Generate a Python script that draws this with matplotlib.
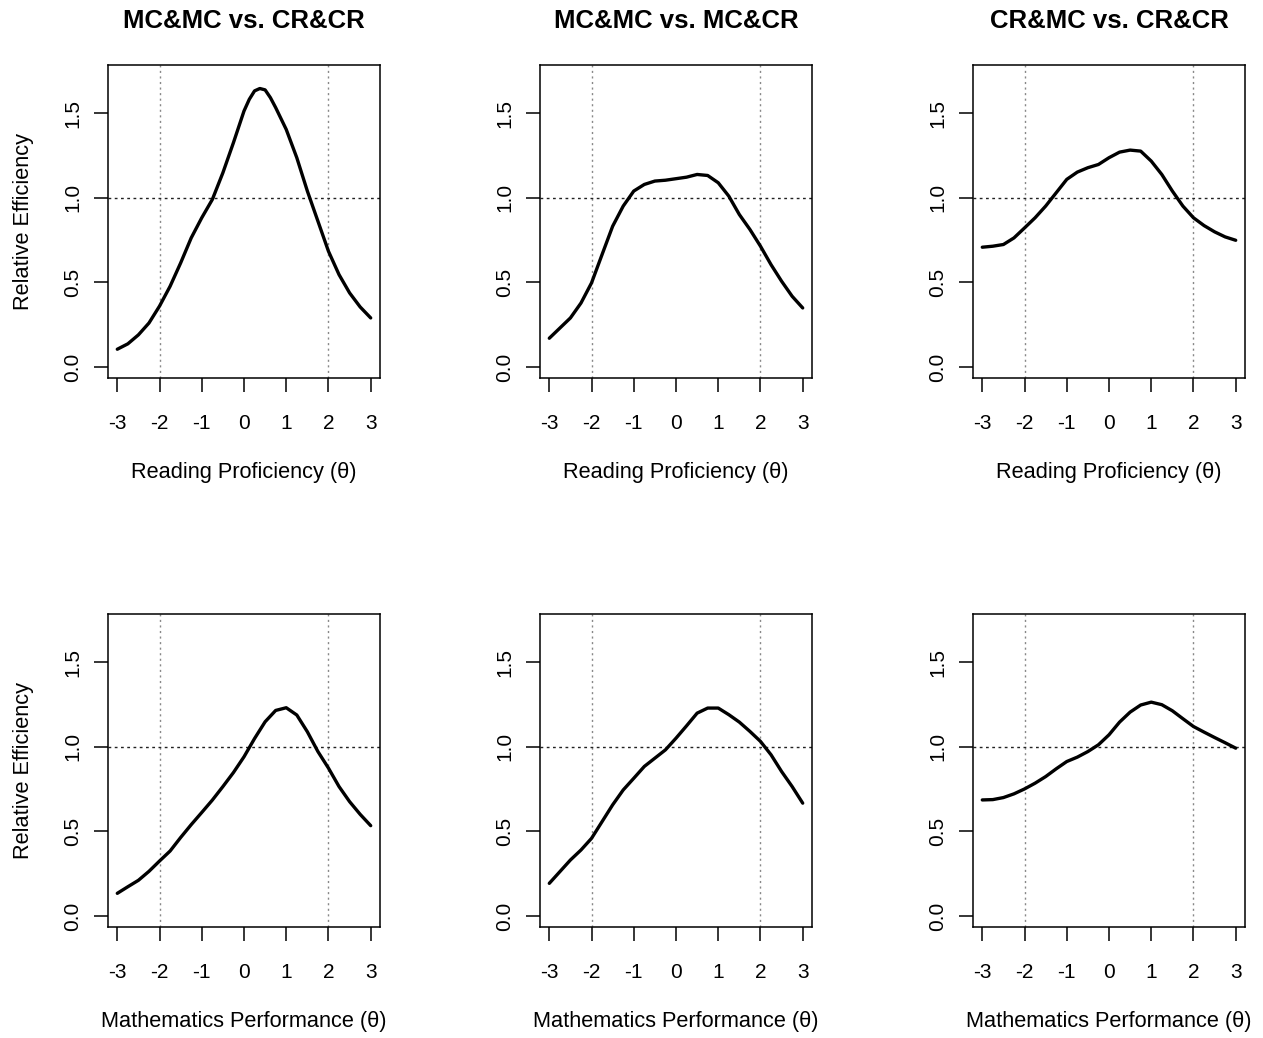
import matplotlib
matplotlib.use("Agg")
import matplotlib.pyplot as plt

plt.rcParams['font.family'] = ['Liberation Sans', 'DejaVu Sans']
plt.rcParams['axes.unicode_minus'] = False

theta = [-3.0, -2.75, -2.5, -2.25, -2.0, -1.75, -1.5, -1.25, -1.0, -0.75, -0.5, -0.25,
         0.0, 0.25, 0.5, 0.75, 1.0, 1.25, 1.5, 1.75, 2.0, 2.25, 2.5, 2.75, 3.0]
theta_p1 = [-3.0, -2.75, -2.5, -2.25, -2.0, -1.75, -1.5, -1.25, -1.0, -0.75, -0.5, -0.25,
            0.0, 0.125, 0.25, 0.375, 0.5, 0.625, 0.75, 1.0, 1.25, 1.5, 1.75, 2.0, 2.25,
            2.5, 2.75, 3.0]

titles = ["MC&MC vs. CR&CR", "MC&MC vs. MC&CR", "CR&MC vs. CR&CR"]
xlabels = ["Reading Proficiency (\u03b8)", "Mathematics Performance (\u03b8)"]
ylabel = "Relative Efficiency"

reading_mcmc_crcr = [0.105, 0.137, 0.19, 0.26, 0.36, 0.477, 0.615, 0.763, 0.882, 0.99, 1.148,
                     1.326, 1.513, 1.582, 1.632, 1.646, 1.638, 1.592, 1.533, 1.404, 1.237,
                     1.04, 0.862, 0.684, 0.546, 0.438, 0.355, 0.29]
reading_mcmc_mccr = [0.17, 0.23, 0.29, 0.378, 0.497, 0.665, 0.832, 0.951, 1.04, 1.079, 1.099,
                     1.104, 1.113, 1.122, 1.138, 1.132, 1.089, 1.01, 0.901, 0.813, 0.714,
                     0.605, 0.507, 0.418, 0.349]
reading_crmc_crcr = [0.708, 0.714, 0.724, 0.763, 0.822, 0.882, 0.951, 1.03, 1.109, 1.152, 1.178,
                     1.197, 1.237, 1.27, 1.282, 1.276, 1.217, 1.138, 1.04, 0.951, 0.882,
                     0.836, 0.799, 0.769, 0.749]
math_mcmc_crcr = [0.134, 0.173, 0.211, 0.264, 0.325, 0.384, 0.464, 0.54, 0.612, 0.685, 0.765,
                  0.848, 0.941, 1.049, 1.148, 1.215, 1.231, 1.188, 1.089, 0.972, 0.874,
                  0.765, 0.676, 0.601, 0.534]
math_mcmc_mccr = [0.193, 0.262, 0.331, 0.39, 0.459, 0.558, 0.657, 0.745, 0.814, 0.884, 0.933,
                  0.982, 1.051, 1.124, 1.199, 1.229, 1.229, 1.19, 1.146, 1.091, 1.032,
                  0.953, 0.854, 0.765, 0.667]
math_crmc_crcr = [0.686, 0.688, 0.7, 0.722, 0.751, 0.785, 0.824, 0.87, 0.913, 0.939, 0.972,
                  1.012, 1.071, 1.146, 1.205, 1.247, 1.264, 1.249, 1.213, 1.166, 1.12,
                  1.087, 1.055, 1.024, 0.992]

series = [[(theta_p1, reading_mcmc_crcr), (theta, reading_mcmc_mccr), (theta, reading_crmc_crcr)],
          [(theta, math_mcmc_crcr), (theta, math_mcmc_mccr), (theta, math_crmc_crcr)]]

xticks = [-3, -2, -1, 0, 1, 2, 3]
xticklabels = ["-3", "-2", "-1", "0", "1", "2", "3"]
yticks = [0.0, 0.5, 1.0, 1.5]
yticklabels = ["0.0", "0.5", "1.0", "1.5"]

W, H = 1263, 1038
fig = plt.figure(figsize=(W / 100, H / 100), dpi=100)

lefts = [108, 540, 973]
tops = [65, 614]
pw, ph = 272, 313

for r in range(2):
    for c in range(3):
        ax = fig.add_axes([lefts[c] / W, 1 - (tops[r] + ph) / H, pw / W, ph / H])
        xs, ys = series[r][c]
        ax.plot(xs, ys, color='black', lw=2.4, solid_joinstyle='round',
                solid_capstyle='round', zorder=3)
        ax.axhline(1.0, color='#222222', lw=1.0, linestyle=(0, (2, 2.5)), zorder=2)
        for gx in (-2, 2):
            ax.axvline(gx, color='#888888', lw=1.0, linestyle=(0, (1.5, 2.5)), zorder=1)
        ax.set_xlim(-3.22, 3.22)
        ax.set_ylim(-0.065, 1.785)
        ax.set_xticks(xticks)
        ax.set_xticklabels(xticklabels)
        ax.set_yticks(yticks)
        ax.set_yticklabels(yticklabels, rotation=90, va='center')
        ax.tick_params(axis='both', direction='out', length=10, width=1.1,
                       labelsize=15, color='black')
        ax.tick_params(axis='x', pad=16)
        ax.tick_params(axis='y', pad=8.5)
        for sp in ax.spines.values():
            sp.set_linewidth(1.1)
        ax.set_xlabel(xlabels[r], fontsize=15.7, labelpad=21)
        if c == 0:
            ax.set_ylabel(ylabel, fontsize=15.7, labelpad=21)
        if r == 0:
            ax.set_title(titles[c], fontsize=18.5, fontweight='bold', pad=27)

fig.savefig("out.png", dpi=100)
